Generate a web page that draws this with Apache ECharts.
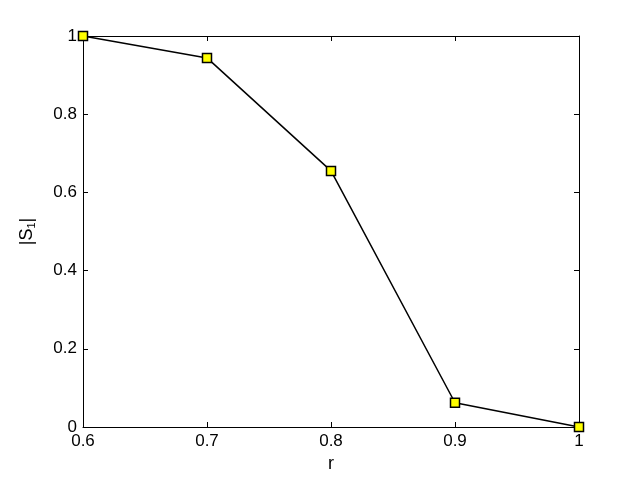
<!DOCTYPE html>
<html><head><meta charset="utf-8">
<script src="https://cdn.jsdelivr.net/npm/echarts@6/dist/echarts.min.js"></script>
<style>html,body{margin:0;padding:0;background:#fff}#c{width:640px;height:480px}</style>
</head><body><div id="c"></div>
<script>
const xValues = [0.6, 0.7, 0.8, 0.9, 1.0];
const yValues = [1.0, 0.944, 0.655, 0.062, 0.0];
const xTicks = [0.6, 0.7, 0.8, 0.9, 1];
const yTicks = [0, 0.2, 0.4, 0.6, 0.8, 1];

const chart = echarts.init(document.getElementById('c'), null, {renderer: 'canvas'});
const font = 'Arial, "Liberation Sans", sans-serif';
const axisCommon = {
  axisLine: {show: true, onZero: false, lineStyle: {color: '#000', width: 1}},
  axisTick: {show: true, inside: true, length: 5, lineStyle: {color: '#000'}},
  splitLine: {show: false}
};
function fmt(v){ return (Math.abs(v-1)<1e-9)?'1':(Math.abs(v)<1e-9?'0':String(+v.toFixed(1))); }
chart.setOption({
  animation: false,
  backgroundColor: '#fff',
  grid: {left: 83, right: 61, top: 36, bottom: 53, containLabel: false},
  xAxis: [
    Object.assign({type: 'value', min: 0.6, max: 1, interval: 0.1, position: 'bottom',
      name: 'r', nameLocation: 'middle', nameGap: 28,
      nameTextStyle: {fontFamily: font, fontSize: 18, color: '#000'},
      axisLabel: {color: '#000', fontFamily: font, fontSize: 17, margin: 6, formatter: fmt}}, axisCommon),
    Object.assign({type: 'value', min: 0.6, max: 1, interval: 0.1, position: 'top',
      axisLabel: {show: false}}, axisCommon)
  ],
  yAxis: [
    Object.assign({type: 'value', min: 0, max: 1, interval: 0.2, position: 'left',
      name: '{a||S}{s|1}{a||}', nameLocation: 'middle', nameGap: 46,
      nameTextStyle: {fontFamily: font, fontSize: 18, color: '#000',
        rich: {a: {fontFamily: font, fontSize: 18, color: '#000'}, s: {fontFamily: font, fontSize: 11, color: '#000', verticalAlign: 'bottom', padding: [8,0,0,0]}}},
      axisLabel: {color: '#000', fontFamily: font, fontSize: 17, margin: 6, formatter: fmt}}, axisCommon),
    Object.assign({type: 'value', min: 0, max: 1, interval: 0.2, position: 'right',
      axisLabel: {show: false}}, axisCommon)
  ],
  series: [{
    type: 'line',
    data: xValues.map((x, i) => [x, yValues[i]]),
    symbol: 'rect', symbolSize: 9,
    lineStyle: {color: '#000', width: 1.5},
    itemStyle: {color: '#ffff00', borderColor: '#000', borderWidth: 1.5},
    clip: false
  }]
});
</script></body></html>
